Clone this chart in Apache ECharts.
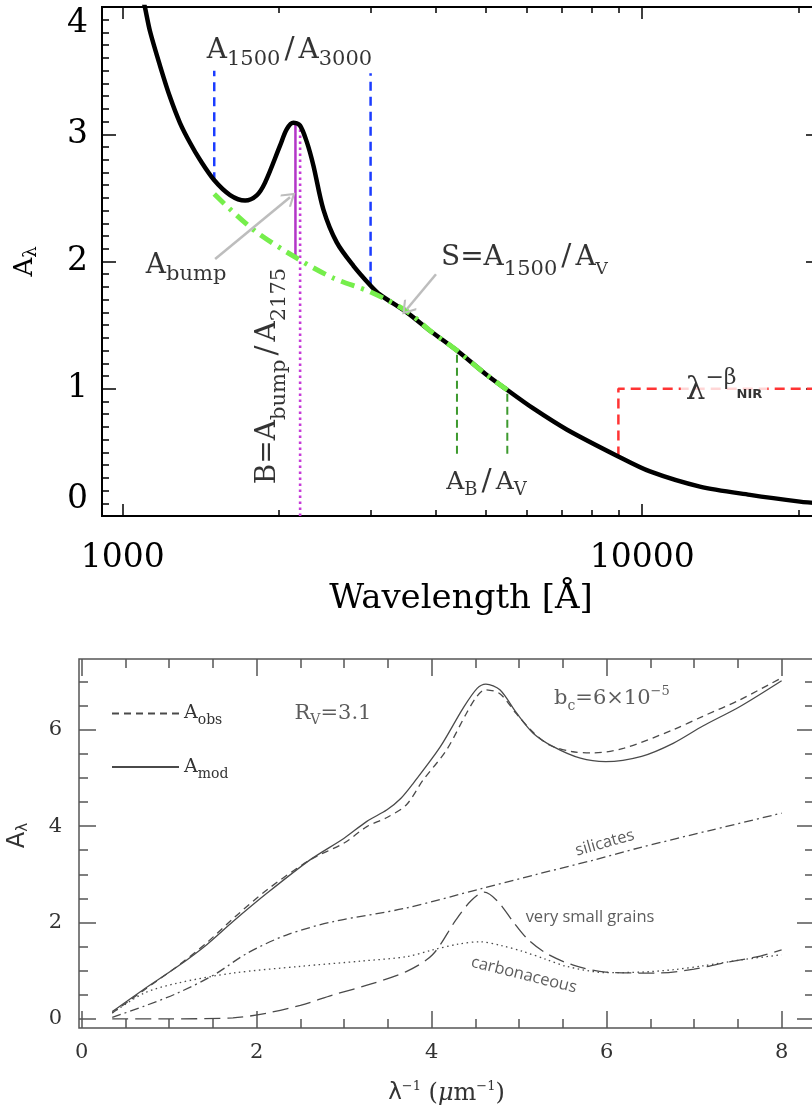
<!DOCTYPE html>
<html>
<head>
<meta charset="utf-8">
<title>Extinction curves</title>
<script src="https://cdn.jsdelivr.net/npm/echarts@6.0.0/dist/echarts.min.js"></script>
<style>
  html, body { margin: 0; padding: 0; background: #fff; overflow: hidden; }
  #chart { width: 830px; height: 1114px; }
</style>
</head>
<body>
<div id="chart"></div>
<script>
const serif = 'DejaVu Serif';
const sans = 'Open Sans';

// ---- top panel: A_lambda vs wavelength [Å] ----
const waveMin = 912, waveMax = 22000;
const waveMajor = [1000, 10000];
const waveMinor = [2000, 3000, 4000, 5000, 6000, 7000, 8000, 9000, 20000];
const curveWave = [1094, 1104, 1128, 1180, 1233, 1289, 1348, 1409, 1499, 1609, 1720, 1811, 1879, 2008, 2069, 2130, 2193, 2261, 2328, 2433, 2582, 2780, 3001, 3128, 3522, 3905, 4400, 5000, 5500, 6171, 7155, 8995, 10352, 12917, 16127, 20120, 22000];
const curveA = [4.063, 3.992, 3.811, 3.536, 3.292, 3.088, 2.931, 2.797, 2.64, 2.522, 2.479, 2.52, 2.62, 2.91, 3.04, 3.09, 3.07, 2.94, 2.755, 2.41, 2.15, 1.966, 1.81, 1.74, 1.60, 1.456, 1.30, 1.114, 0.99, 0.845, 0.68, 0.468, 0.35, 0.231, 0.166, 0.113, 0.098];
const baseWave = [1500, 1784, 2175, 2543, 3000, 3522, 3905, 4400, 5000, 5500];
const baseA = [2.53, 2.25, 2.02, 1.87, 1.76, 1.61, 1.456, 1.30, 1.114, 0.99];
const ratioWave = [1500, 3000];
const ratioLow = [2.63, 1.81];
const ratioHigh = [3.50, 3.48];
const bandWave = [4400, 5500];
const bandLow = [0.49, 0.49];
const bandHigh = [1.30, 0.99];
const bumpWave = 2150, bumpLow = 2.03, bumpHigh = 3.08;
const peakWave = 2195, peakHigh = 3.05;
const nirWave = [9000, 9000, 22000];
const nirA = [0.468, 1.0, 1.0];
const arrowStart = [[1506, 2.02], [4009, 1.90]];
const arrowEnd = [[2099, 2.505], [3522, 1.625]];

// ---- bottom panel: A_lambda vs 1/lambda [um^-1] ----
const invMajor = [0, 2, 4, 6, 8];
const invMinor = [0.5, 1, 1.5, 2.5, 3, 3.5, 4.5, 5, 5.5, 6.5, 7, 7.5];
const aMajor = [0, 2, 4, 6];
const aMinor = [0.5, 1, 1.5, 2.5, 3, 3.5, 4.5, 5, 5.5, 6.5, 7];
const modX = [0.35, 0.7, 1.1, 1.43, 1.73, 2.12, 2.61, 3.0, 3.26, 3.49, 3.65, 3.79, 4.1, 4.36, 4.52, 4.62, 4.78, 4.97, 5.16, 5.39, 5.7, 5.99, 6.4, 6.76, 7.1, 7.52, 8.0];
const modA = [0.15, 0.60, 1.09, 1.54, 2.02, 2.61, 3.30, 3.75, 4.10, 4.34, 4.58, 4.89, 5.65, 6.45, 6.86, 6.95, 6.83, 6.35, 5.93, 5.65, 5.41, 5.34, 5.45, 5.72, 6.08, 6.48, 7.02];
const obsX = [0.35, 0.7, 1.1, 1.43, 1.73, 2.12, 2.61, 3.0, 3.26, 3.49, 3.71, 3.9, 4.17, 4.4, 4.52, 4.61, 4.78, 4.97, 5.16, 5.34, 5.6, 5.84, 6.2, 6.76, 7.1, 7.52, 8.0];
const obsA = [0.12, 0.58, 1.10, 1.58, 2.08, 2.68, 3.30, 3.65, 3.99, 4.18, 4.44, 4.95, 5.58, 6.35, 6.70, 6.83, 6.75, 6.33, 5.95, 5.69, 5.55, 5.52, 5.62, 6.00, 6.28, 6.62, 7.08];
const silX = [0.35, 0.71, 1.09, 1.51, 1.89, 2.34, 2.88, 3.71, 4.58, 5.2, 5.84, 6.37, 7.2, 8.0];
const silA = [0.03, 0.26, 0.53, 0.91, 1.36, 1.74, 2.02, 2.30, 2.71, 3.0, 3.29, 3.55, 3.92, 4.27];
const vsgX = [0.35, 1.0, 1.73, 2.12, 2.5, 2.88, 3.3, 3.71, 4.01, 4.28, 4.45, 4.6, 4.75, 4.93, 5.1, 5.31, 5.61, 5.99, 6.56, 7.0, 7.33, 7.7, 8.0];
const vsgA = [0.0, 0.0, 0.02, 0.12, 0.28, 0.50, 0.72, 0.98, 1.33, 2.06, 2.45, 2.63, 2.45, 2.02, 1.65, 1.36, 1.12, 0.97, 0.95, 1.03, 1.16, 1.28, 1.43];
const carbX = [0.35, 0.71, 1.09, 1.73, 2.5, 3.2, 3.71, 4.01, 4.3, 4.55, 4.8, 5.04, 5.3, 5.54, 5.99, 6.4, 6.76, 7.1, 7.52, 8.0];
const carbA = [0.12, 0.53, 0.74, 0.95, 1.09, 1.20, 1.29, 1.43, 1.55, 1.60, 1.52, 1.40, 1.24, 1.09, 0.96, 0.97, 1.02, 1.10, 1.22, 1.33];

const pts = (xs, ys) => xs.map((x, i) => [x, ys[i]]);

// axis that only draws ticks (and optionally labels) at given values
function tickAxis(grid, position, min, max, ticks, len, color, label) {
  return {
    type: 'value', gridIndex: grid, position, min, max,
    axisLine: { show: false, onZero: false },
    splitLine: { show: false },
    axisPointer: { show: false },
    axisTick: { inside: true, length: len, customValues: ticks, lineStyle: { color, width: 1.5 } },
    axisLabel: label ? Object.assign({ customValues: ticks }, label) : { show: false }
  };
}

const logMin = Math.log10(waveMin), logMax = Math.log10(waveMax);
const lg = v => v.map(Math.log10);
const invMin = -0.03, invMax = 8.37;
const aMin = -0.19, aMax = 7.47;

const richTop = {
  a: { fontFamily: serif, fontSize: 28, color: '#000' },
  s: { fontFamily: serif, fontSize: 21, color: '#000', padding: [18, 0, 0, 0] },
  s2: { fontFamily: serif, fontSize: 21, color: '#000', padding: [24, 0, 0, 0] },
  v: { fontFamily: serif, fontSize: 17, color: '#000', padding: [24, 0, 0, 0] },
  sl: { fontFamily: serif, fontSize: 30, color: '#000', padding: [0, 4, 0, 4] },
  a2: { fontFamily: serif, fontSize: 25, color: '#000' },
  s3: { fontFamily: serif, fontSize: 18, color: '#000', padding: [16, 0, 0, 0] },
  l: { fontFamily: serif, fontSize: 31, color: '#000' },
  sup: { fontFamily: serif, fontSize: 22, color: '#000', padding: [0, 0, 26, 0] },
  nir: { fontFamily: 'DejaVu Sans', fontSize: 13, fontWeight: 'bold', color: '#000', padding: [6, 0, 0, 0] }
};
const richBot = {
  a: { fontFamily: serif, fontSize: 21, color: '#333' },
  s: { fontFamily: serif, fontSize: 14, color: '#333', padding: [14, 0, 0, 0] },
  sup: { fontFamily: serif, fontSize: 13, color: '#333', padding: [0, 0, 14, 0] },
  t: { fontFamily: sans, fontSize: 16.5, color: '#333' }
};

const topLine = (data, style, z, smooth) => ({
  type: 'line', xAxisIndex: 0, yAxisIndex: 0, data, symbol: 'none', silent: true,
  smooth: smooth || false, lineStyle: style, z: z || 2
});
const botLine = (name, data, type) => ({
  type: 'line', name, xAxisIndex: 5, yAxisIndex: 2, data, symbol: 'none', smooth: 0.3, silent: true,
  lineStyle: { color: '#4a4a4a', width: 1.3, type }, itemStyle: { color: '#4a4a4a' }
});

const chart = echarts.init(document.getElementById('chart'));

const option = {
  animation: false,
  backgroundColor: '#fff',
  grid: [
    { left: 102, top: 7, width: 718, height: 509, show: true, borderColor: '#000', borderWidth: 2, outerBoundsMode: 'none' },
    { left: 79, top: 659, width: 735, height: 369, show: true, borderColor: '#555', borderWidth: 1.5, outerBoundsMode: 'none' }
  ],
  legend: {
    data: ['obs', 'mod'], orient: 'vertical', left: 106, top: 699,
    itemWidth: 67, itemHeight: 14, itemGap: 30, selectedMode: false,
    itemStyle: { color: 'transparent', borderWidth: 0, opacity: 0 },
    formatter: n => '{a|A}{s|' + n + '}',
    textStyle: {
      rich: {
        a: { fontFamily: serif, fontSize: 19, color: '#333' },
        s: { fontFamily: serif, fontSize: 14, color: '#333', padding: [14, 0, 0, 0] }
      }
    }
  },
  xAxis: [
    { type: 'log', gridIndex: 0, min: waveMin, max: waveMax, show: false },
    tickAxis(0, 'bottom', logMin, logMax, lg(waveMajor), 12, '#000', {
      formatter: v => String(Math.round(Math.pow(10, v))),
      fontFamily: serif, fontSize: 33, color: '#000', margin: 26
    }),
    tickAxis(0, 'bottom', logMin, logMax, lg(waveMinor), 6, '#000'),
    tickAxis(0, 'top', logMin, logMax, lg(waveMajor), 12, '#000'),
    tickAxis(0, 'top', logMin, logMax, lg(waveMinor), 6, '#000'),
    tickAxis(1, 'bottom', invMin, invMax, invMajor, 17, '#555', {
      fontFamily: serif, fontSize: 21, color: '#333', margin: 14
    }),
    tickAxis(1, 'bottom', invMin, invMax, invMinor, 9, '#555'),
    tickAxis(1, 'top', invMin, invMax, invMajor, 17, '#555'),
    tickAxis(1, 'top', invMin, invMax, invMinor, 9, '#555')
  ],
  yAxis: [
    {
      type: 'value', gridIndex: 0, position: 'left', min: 0, max: 4, interval: 1,
      axisLine: { show: false, onZero: false }, splitLine: { show: false },
      axisTick: { inside: true, length: 14, lineStyle: { color: '#000', width: 1.5 } },
      minorTick: { show: true, splitNumber: 10, length: 7, lineStyle: { color: '#000', width: 1.5 } },
      axisLabel: {
        fontFamily: serif, fontSize: 33, color: '#000', margin: 14,
        verticalAlignMinLabel: 'bottom', verticalAlignMaxLabel: 'top'
      },
      name: '{a|A}{s|λ}', nameLocation: 'middle', nameGap: 62,
      nameTextStyle: {
        rich: {
          a: { fontFamily: serif, fontSize: 26, color: '#000' },
          s: { fontFamily: serif, fontSize: 18, color: '#000', padding: [12, 0, 0, 0] }
        }
      }
    },
    {
      type: 'value', gridIndex: 0, position: 'right', min: 0, max: 4, interval: 1,
      axisLine: { show: false, onZero: false }, splitLine: { show: false },
      axisTick: { inside: true, length: 14, lineStyle: { color: '#000', width: 1.5 } },
      minorTick: { show: true, splitNumber: 10, length: 7, lineStyle: { color: '#000', width: 1.5 } },
      axisLabel: { show: false }
    },
    tickAxis(1, 'left', aMin, aMax, aMajor, 17, '#555', {
      fontFamily: serif, fontSize: 21, color: '#333', margin: 17
    }),
    tickAxis(1, 'left', aMin, aMax, aMinor, 9, '#555'),
    tickAxis(1, 'right', aMin, aMax, aMajor, 17, '#555'),
    tickAxis(1, 'right', aMin, aMax, aMinor, 9, '#555')
  ],
  series: [
    topLine(pts(curveWave, curveA), { color: '#000', width: 4.5 }, 3, 0.3),
    topLine(pts(baseWave, baseA), { color: '#76ee4c', width: 5, type: [14, 7, 3, 7] }, 4, 0.3),
    ...ratioWave.map((w, i) => topLine([[w, ratioLow[i]], [w, ratioHigh[i]]], { color: '#1b3cff', width: 2.5, type: [9, 6] })),
    ...bandWave.map((w, i) => topLine([[w, bandLow[i]], [w, bandHigh[i]]], { color: '#3d9a2e', width: 2, type: [8, 5] })),
    topLine([[bumpWave, bumpLow], [bumpWave, bumpHigh]], { color: '#b336c8', width: 2.5 }),
    topLine([[peakWave, 0], [peakWave, peakHigh]], { color: '#c63ad8', width: 2.6, type: [2.5, 3.5] }),
    Object.assign(topLine(pts(nirWave, nirA), { color: '#ff3434', width: 2.5, type: [10, 6] }), {
      markLine: {
        silent: true, animation: false,
        symbol: ['none', 'path://M0,0L12,14L10,16L0,4.5L-10,16L-12,14Z'], symbolSize: [16, 14],
        label: { show: false },
        lineStyle: { color: '#bdbdbd', width: 2.5, type: 'solid' },
        data: arrowStart.map((s, i) => [{ coord: s }, { coord: arrowEnd[i] }])
      }
    }),
    {
      type: 'scatter', xAxisIndex: 0, yAxisIndex: 0, symbolSize: 0, silent: true, clip: false, z: 10,
      label: { show: true, position: 'inside', rich: richTop },
      data: [
        { value: [2094, 3.658], label: { formatter: '{a|A}{s|1500}{sl|/}{a|A}{s|3000}' } },
        { value: [1324, 1.965], label: { formatter: '{a|A}{s|bump}' } },
        { value: [5934, 2.03], label: { formatter: '{a|S=A}{s2|1500}{sl|/}{a|A}{v|V}' } },
        { value: [1904, 1.10], label: { rotate: 90, formatter: '{a|B=A}{s2|bump}{sl|/}{a|A}{s2|2175}' } },
        { value: [14375, 0.98], label: { backgroundColor: '#fff', padding: [0, 5], formatter: '{l|λ}{sup|−β}{nir|NIR}' } },
        { value: [5015, 0.267], label: { formatter: '{a2|A}{s3|B}{sl|/}{a2|A}{s3|V}' } }
      ]
    },
    botLine('obs', pts(obsX, obsA), [7, 5]),
    botLine('mod', pts(modX, modA), 'solid'),
    botLine('silicates', pts(silX, silA), [9, 4, 2, 4]),
    botLine('very small grains', pts(vsgX, vsgA), [16, 7]),
    botLine('carbonaceous', pts(carbX, carbA), [1.5, 3.5]),
    {
      type: 'scatter', xAxisIndex: 5, yAxisIndex: 2, symbolSize: 0, silent: true, clip: false, z: 10,
      label: { show: true, position: 'inside', rich: richBot },
      data: [
        { value: [2.873, 6.34], label: { formatter: '{a|R}{s|V}{a|=3.1}' } },
        { value: [6.06, 6.64], label: { formatter: '{a|b}{s|c}{a|=6×10}{sup|−5}' } },
        { value: [5.98, 3.65], label: { rotate: 16, formatter: '{t|silicates}' } },
        { value: [5.81, 2.10], label: { formatter: '{t|very small grains}' } },
        { value: [5.055, 0.91], label: { rotate: -14, formatter: '{t|carbonaceous}' } }
      ]
    }
  ]
};

// axis names
option.xAxis[1].name = 'Wavelength [Å]';
option.xAxis[1].nameLocation = 'middle';
option.xAxis[1].nameGap = 66;
option.xAxis[1].nameTextStyle = { fontFamily: serif, fontSize: 34, color: '#000' };
option.xAxis[5].name = '{l|λ}{sup|−1}{t| (}{mu|μ}{t|m}{sup|−1}{t|)}';
option.xAxis[5].nameLocation = 'middle';
option.xAxis[5].nameGap = 52;
option.xAxis[5].nameTextStyle = {
  rich: {
    l: { fontFamily: 'DejaVu Sans', fontSize: 23, color: '#333' },
    sup: { fontFamily: serif, fontSize: 13, color: '#333', padding: [0, 0, 14, 0] },
    t: { fontFamily: serif, fontSize: 24, color: '#333' },
    mu: { fontFamily: serif, fontSize: 24, fontStyle: 'italic', color: '#333' }
  }
};
option.yAxis[2].name = '{a|A}{s|λ}';
option.yAxis[2].nameLocation = 'middle';
option.yAxis[2].nameGap = 48;
option.yAxis[2].nameTextStyle = {
  padding: [0, 0, 0, 16],
  rich: {
    a: { fontFamily: 'DejaVu Sans', fontSize: 24, color: '#333' },
    s: { fontFamily: 'DejaVu Sans', fontSize: 15, color: '#333', padding: [12, 0, 0, 0] }
  }
};

chart.setOption(option);
</script>
</body>
</html>
